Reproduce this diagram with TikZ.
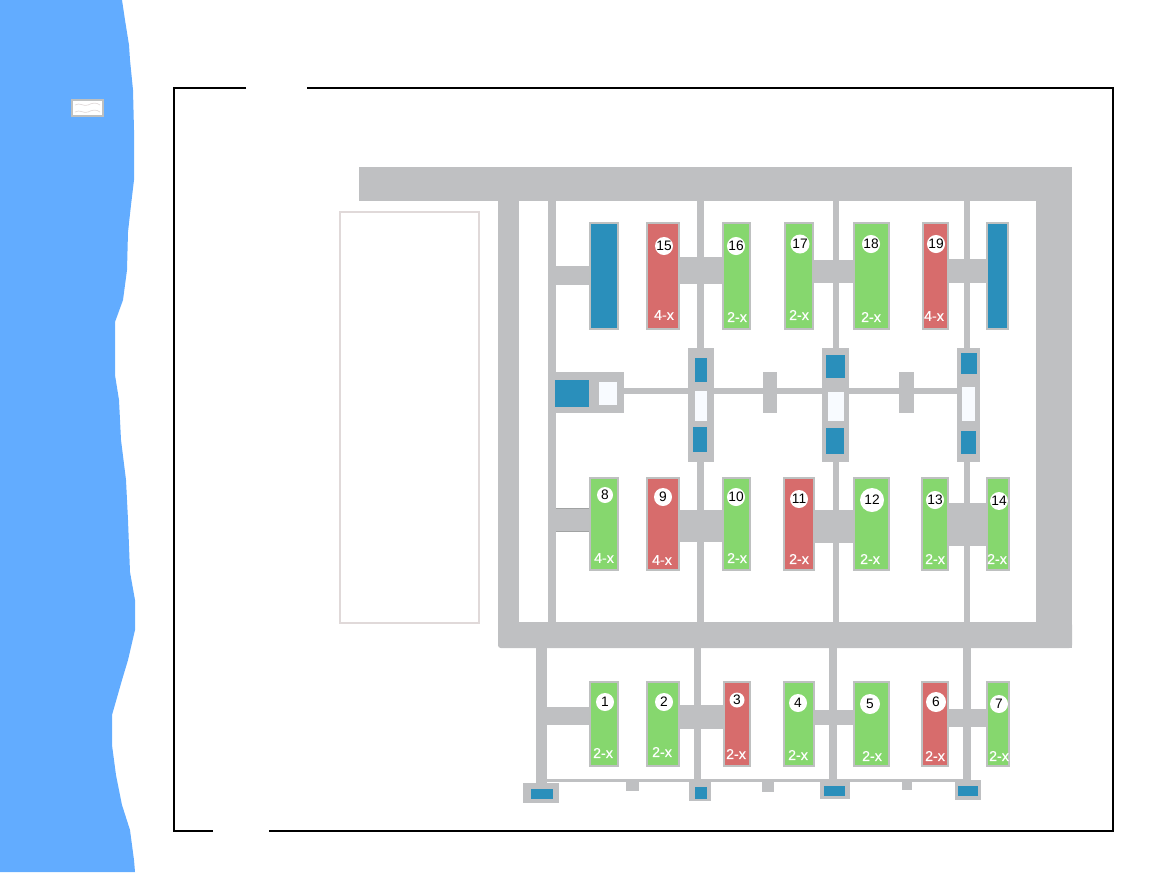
\documentclass[tikz,border=0pt]{standalone}
\usepackage{fontspec}
\setmainfont{Liberation Sans}
\newfontfamily\gradefont[FakeBold=0.35]{Liberation Sans}
\definecolor{sea}{HTML}{62ACFF}
\definecolor{road}{HTML}{BFC0C2}
\definecolor{mgreen}{HTML}{86D76E}
\definecolor{mred}{HTML}{D76C6C}
\definecolor{mblue}{HTML}{2A8FBB}
\definecolor{pale}{HTML}{F8FBFF}
\definecolor{plot}{HTML}{E0D9D9}
\definecolor{edge}{HTML}{BEC0C0}
\tikzset{
  machine/.style={draw=edge,line width=1.1pt},
  numdot/.style={circle,fill=white,draw=none,inner sep=0pt,text=black,font=\fontsize{10.3pt}{10.3pt}\selectfont},
  grade/.style={text=white,inner sep=0pt,font=\gradefont\fontsize{10.7pt}{10.7pt}\selectfont},
}
\begin{document}
\begin{tikzpicture}[x=0.75pt,y=-0.75pt]
\useasboundingbox (0,0) rectangle (1170,872);
% sea
\fill[sea] (0,0) -- (122,0) -- (125,20) -- (129,45) -- (130,60) -- (133,90) -- (134,130) -- (134,180) -- (131,205) -- (128,232) -- (127,270) -- (123,300) -- (115,322) -- (115,375) -- (119,400) -- (121,440) -- (126,480) -- (128,520) -- (130,572) -- (135,600) -- (135,630) -- (128,660) -- (122,680) -- (112,715) -- (112,745) -- (116,775) -- (122,805) -- (130,830) -- (134,860) -- (135,872) -- (0,872) -- cycle;
% legend
\draw[fill=white,draw=edge,line width=1.4pt] (72,100) rectangle (103,116);
\draw[plot,line width=0.5pt] (75,105) .. controls (80,102) and (84,107) .. (88,105) .. controls (92,103) and (96,102) .. (100,105);
\draw[plot,line width=0.5pt] (75,112) .. controls (80,109) and (84,114) .. (88,112) .. controls (92,110) and (96,109) .. (100,112);
% frame
\draw[black,line width=1.5pt] (246,88) -- (174,88) -- (174,831) -- (213,831);
\draw[black,line width=1.5pt] (307,88) -- (1113,88) -- (1113,831) -- (269,831);
% pale plot
\draw[plot,line width=1.4pt] (340,212) rectangle (479,623);
% main roads
\fill[road] (359,167) rectangle (1072,201);
\fill[road] (1036,201) rectangle (1072,648);
\fill[road,rounded corners=2pt] (498,622) rectangle (1072,648);
\fill[road] (498,201) rectangle (519,630);
\fill[road] (548,201) rectangle (556,622);
% upper verticals
\foreach \a/\b in {697/704,833/839,964/970}{
  \fill[road] (\a,201) rectangle (\b,350);
  \fill[road] (\a,460) rectangle (\b,622);
}
% lower verticals
\foreach \a/\b in {536/547,694/701,829/837,963/971}{
  \fill[road] (\a,648) rectangle (\b,785);
}
% thin lines
\fill[road] (547,779) rectangle (968,782);
\fill[road] (624,388) rectangle (958,394);
% small blocks
\foreach \a/\b/\c/\d in {626/639/782/791,762/774/782/792,902/912/782/790,763/777/372/413,899/914/372/413}{
  \fill[road] (\a,\c) rectangle (\b,\d);
}
% cross links
\foreach \a/\b/\c/\d in {547/589/707/725,680/723/705/729,815/853/710/725,949/986/709/727,
  556/589/508/532,680/722/510/542,815/853/510/543,949/986/503/546,
  556/589/266/285,680/722/257/284,814/853/260/283,949/986/259/283}{
  \fill[road] (\a,\c) rectangle (\b,\d);
}
\draw[edge!85!black,line width=0.5pt] (556,508.5) -- (589,508.5) (556,531.5) -- (589,531.5);
% end stations
\foreach \a/\b/\c/\d/\e/\f/\g/\h in {523/559/783/803/531/553/789/799,689/711/781/801/695/707/787/799,820/850/781/799/824/845/786/796,955/981/780/800/958/978/786/796}{
  \fill[road] (\a,\c) rectangle (\b,\d);
  \fill[mblue] (\e,\g) rectangle (\f,\h);
}
% central stations
\fill[road] (556,372) rectangle (624,413);
\fill[mblue] (555,380) rectangle (589,407);
\fill[pale] (599,382) rectangle (617,405);
\foreach \a/\b/\ta/\tb/\tc/\td/\wa/\wb/\wc/\wd/\ba/\bb/\bc/\bd in {
  688/714/695/707/358/382/695/707/391/421/693/707/427/452,
  822/849/826/845/355/378/828/844/392/421/826/844/428/454,
  957/980/961/977/353/374/962/975/387/421/961/976/431/454}{
  \fill[road] (\a,348) rectangle (\b,462);
  \fill[mblue] (\ta,\tc) rectangle (\tb,\td);
  \fill[pale] (\wa,\wc) rectangle (\wb,\wd);
  \fill[mblue] (\ba,\bc) rectangle (\bb,\bd);
}
% tall blue blocks
\foreach \a/\b in {589/619,986/1009}{
  \draw[machine,fill=mblue] (\a+1,223) rectangle (\b-1,329);
}
% machines: x1/x2/y1/y2/colour/number/cx/cy/r/grade/lx/ly
\foreach \xa/\xb/\ya/\yb/\col/\num/\cx/\cy/\r/\gr/\lx/\ly in {
  589/619/681/767/mgreen/1/605/702/9/2-x/603/753,
  646/680/681/767/mgreen/2/664/702/9/2-x/662/752,
  723/751/681/767/mred/3/737/700/7.5/2-x/736/754,
  783/815/681/767/mgreen/4/798/703/9/2-x/798/755,
  853/890/681/767/mgreen/5/870/704/10/2-x/872/756,
  921/949/681/767/mred/6/936/702/10/2-x/935/756,
  986/1010/681/767/mgreen/7/999/704/9/2-x/999/756,
  589/619/477/571/mgreen/8/605/495/8/4-x/604/558,
  646/680/477/571/mred/9/663/497/9/4-x/662/560,
  722/751/477/571/mgreen/10/736/497/8/2-x/737/558,
  783/815/477/571/mred/11/799/499/9/2-x/799/559,
  853/890/477/571/mgreen/12/872/500/12/2-x/870/559,
  921/949/477/571/mgreen/13/935/500/9/2-x/935/559,
  986/1010/477/571/mgreen/14/999/501/8/2-x/997/559,
  646/680/222/330/mred/15/664/246/9/4-x/664/315,
  722/751/222/330/mgreen/16/736/246/8/2-x/737/317,
  784/814/222/330/mgreen/17/800/244/9.5/2-x/799/315,
  853/890/222/330/mgreen/18/871/244/8.5/2-x/871/317,
  922/949/222/330/mred/19/936/244/7/4-x/934/316}{
  \draw[machine,fill=\col] (\xa+1,\ya+1) rectangle (\xb-1,\yb-1);
  \node[numdot,minimum size=2*\r*0.75pt] (m\num) at (\cx,\cy) {\num};
  \node[grade] (g\num) at (\lx,\ly) {\gr};
}
\end{tikzpicture}
\end{document}
